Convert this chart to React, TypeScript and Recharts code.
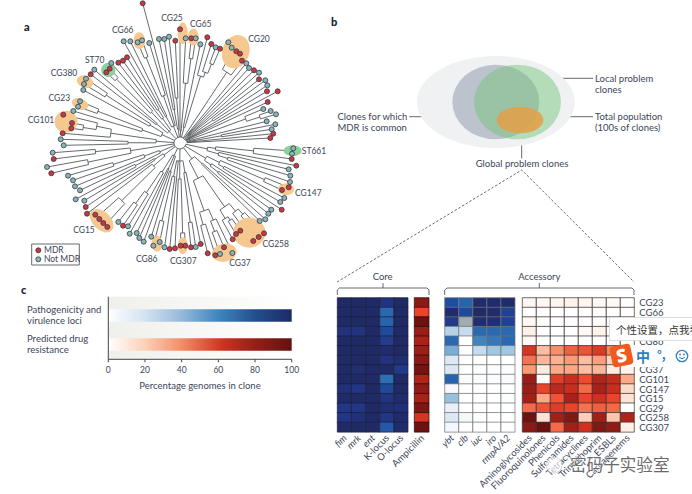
import {
  Bar,
  BarChart,
  CartesianGrid,
  Cell,
  ComposedChart,
  Line,
  Scatter,
  XAxis,
  YAxis,
} from "recharts";

const W = 692;
const H = 494;
const FONT = "Lato, 'Open Sans', sans-serif";
const INK = "#3b4658";

// panel a: tree tips clockwise from ST661, [x, y, mdr]
const tips: [number, number, number][] = [
  [293.3, 148.3, 0], [292, 153.7, 0], [291.7, 159, 1], [296.3, 165.7, 1], [288.7, 169.3, 0],
  [290.3, 175.7, 0], [290, 182, 0], [288.7, 187.3, 1], [282, 190, 1], [284.3, 198, 0],
  [280.3, 202, 0], [281.7, 209.7, 1], [271.3, 209.7, 0], [268.3, 213.7, 0], [265.3, 219.3, 0],
  [259.7, 221, 0], [264, 233.3, 1], [258.7, 237, 1], [253.3, 241, 1], [240.3, 230.7, 1],
  [236, 234, 1], [232.7, 239.3, 1], [232.3, 253, 0], [224, 247.3, 1], [220, 254, 0],
  [215.3, 255.3, 1], [207.7, 253.3, 1], [200.7, 244, 1], [195.7, 247, 0], [191, 247.3, 1],
  [185.3, 245.7, 1], [180.7, 245.7, 1], [175, 248.3, 1], [169.7, 249, 1], [164.5, 247.3, 0],
  [159.7, 242, 0], [153.3, 245.7, 0], [151.3, 236.7, 0], [143.7, 241.7, 0], [139.3, 238, 0],
  [136.7, 233, 0], [129.7, 233.7, 0], [128, 226.3, 0], [123, 225.7, 1], [118.3, 222, 0],
  [107.3, 227, 1], [103.3, 223, 1], [99.3, 219, 1], [95.3, 214.7, 1], [87, 213.7, 1],
  [85.7, 207, 1], [84.3, 200.7, 0], [75.7, 199.3, 0], [80, 190.3, 0], [75, 186.3, 0],
  [73, 180.3, 0], [68, 175.7, 0], [51.3, 173.3, 1], [47, 167, 0], [53.7, 159, 1],
  [52.7, 152.7, 0], [63.7, 145.3, 0], [60.7, 139.3, 0], [62.7, 133.3, 1], [71.3, 128.3, 1],
  [72, 123, 1], [63.3, 114.7, 1], [73.3, 111, 0], [78, 106.7, 0], [80, 101.3, 0],
  [83.3, 90, 0], [84, 84, 0], [86, 78.7, 0], [90.7, 74.3, 1], [94.3, 69.7, 0],
  [106.3, 72.3, 1], [109.7, 68.7, 1], [111.3, 63, 0], [118.3, 62.7, 1], [123, 60.7, 1],
  [127, 57.3, 1], [123.7, 41.3, 0], [130.3, 41.3, 0], [137.7, 42.3, 0], [142, 40.3, 0],
  [142.7, 3.3, 1], [149.3, 43, 0], [159, 39, 0], [164.3, 39, 0], [169, 36.7, 0],
  [175.3, 40.7, 1], [180, 29.3, 1], [185.7, 38.3, 0], [191.3, 38.3, 1], [195.7, 38.3, 0],
  [200.3, 44.3, 0], [207.3, 37.3, 1], [211.3, 44, 1], [215.7, 47.3, 0], [220, 48.7, 1],
  [228.3, 42.3, 0], [231.7, 47.7, 0], [236.3, 51.3, 1], [240, 53.7, 1], [242, 60.7, 1],
  [246.3, 63.3, 0], [249, 68, 0], [254, 70.3, 1], [259, 72.7, 0], [259, 79.3, 1],
  [265.3, 80.3, 0], [267.3, 85.3, 0], [267, 91.3, 1], [277.7, 91.3, 1], [267.7, 102, 1],
  [263.3, 109, 0], [270.7, 111, 0], [276, 114.3, 0], [266.7, 121.3, 0], [275.3, 124.3, 0],
  [271.7, 129.3, 0], [273.3, 133.7, 1], [270.3, 138, 1],
];

// clades: [bracket radius, ...children], a plain number is an index into tips
const cladeTree: any = [6,
  [28, [36, [74, [106, 0, 1], 2], 3], [40, 4, [50, 5, 6]]],
  [30, [44, [92, 7, 8], [50, 9, 10]], [38, 11, [48, 12, 13]]],
  [20, [30, 14, 15], [40, [78, [88, [95, 16, 17], 18], [88, [92, 19, 20], 21]], [72, [84, 22, [95, 23, 24]], [85, 25, 26]]]],
  [18, [30, 27, [80, 28, 29]], [36, [90, 30, 31], 32], 33, [34, 34, [80, 35, 36]]],
  [14, [30, 37, 38], [28, 39, 40], [34, 41, [60, 42, [75, 43, 44]]]],
  [20, [35, [82, [105, 45, 46], [105, 47, 48]], 49], [30, 50, 51]],
  [22, [50, 52, 53], [38, 54, [70, 55, 56]]],
  [26, [50, [94, 57, 58], [85, 59, 60]]],
  [24, [52, 61, 62], [70, 63, [85, [98, 64, 65], 66]]],
  [20, [40, 67, [88, 68, 69]], [35, 70, [88, 71, 72]]],
  [16, [30, 73, 74], [42, [90, 75, 76], 77], [30, 78, [40, 79, 80]]],
  [18, [30, 81, 82], [50, [92, 83, 84], 86], 85],
  [14, [34, 87, 88], [45, 89, 90]],
  [12, 91, [60, 92, [85, 93, 94]]],
  [16, 95, [70, 96, [75, 97, [85, 98, 99]]]],
  [24, [85, [95, [100, 100, 101], [100, 102, 103]], 104]],
  [7, [11, 105, 106], [11, 107, 108], [10, 109, [40, 110, 111]], [9, 112, 113], 114, [70, 115, [84, 116, 117]], [9, 118, [42, 119, 120]], 121, 122],
];
const treeCentre = { x: 180, y: 143 };

const blobs = [
  { x: 139.3, y: 40.7, rx: 5.8, ry: 8.5, a: 0, fill: "#f6c78f" },
  { x: 108.3, y: 70, rx: 7.2, ry: 7.2, a: 0, fill: "#8dd09b" },
  { x: 85, y: 81.7, rx: 8.5, ry: 6, a: 20, fill: "#f6c78f" },
  { x: 80, y: 104, rx: 8.5, ry: 5.5, a: 20, fill: "#f6c78f" },
  { x: 66, y: 121.7, rx: 11.5, ry: 11, a: 0, fill: "#f6c78f" },
  { x: 101.7, y: 220.7, rx: 14, ry: 9, a: 45, fill: "#f6c78f" },
  { x: 157, y: 243.7, rx: 5.5, ry: 8, a: 0, fill: "#f6c78f" },
  { x: 182.7, y: 245.7, rx: 5, ry: 8.5, a: 0, fill: "#f6c78f" },
  { x: 224.3, y: 252.7, rx: 12.5, ry: 9, a: -10, fill: "#f6c78f" },
  { x: 249.3, y: 232.7, rx: 16, ry: 15, a: 0, fill: "#f6c78f" },
  { x: 286, y: 189.3, rx: 8, ry: 6, a: 0, fill: "#f6c78f" },
  { x: 292.7, y: 150.7, rx: 9, ry: 5.5, a: 0, fill: "#8dd09b" },
  { x: 235.7, y: 51.7, rx: 13.5, ry: 17, a: 20, fill: "#f6c78f" },
  { x: 182.7, y: 33.3, rx: 5, ry: 11, a: 0, fill: "#f6c78f" },
  { x: 193.3, y: 37.3, rx: 5.5, ry: 8.5, a: 0, fill: "#f6c78f" },
];

// panel b: venn
const venn = [
  { x: 495.8, y: 102, rx: 79, ry: 46, a: 0, fill: "#f0f1f3", op: 1 },
  { x: 495.8, y: 102, rx: 43.5, ry: 37.3, a: 0, fill: "#bcc3cd", op: 1 },
  { x: 517.5, y: 102, rx: 43.5, ry: 37.3, a: 0, fill: "#73c476", op: 0.47 },
  { x: 520, y: 120, rx: 23.3, ry: 13.3, a: 0, fill: "#e0a24e", op: 0.92 },
];

const annotationPaths = [
  [[409.3, 116.7], [463.3, 116.7]],
  [[541.7, 78.3], [593, 78.3]],
  [[565.7, 116.7], [593, 116.7]],
  [[521.7, 125], [521.7, 158.3]],
  // legend box
  [[31.7, 244], [79.3, 244], [79.3, 265], [31.7, 265], [31.7, 244]],
  // core bracket
  [[337.3, 295], [337.3, 290], [339.5, 288], [427, 288], [429, 290], [429, 295]],
  [[383, 288], [383, 283]],
  // accessory bracket
  [[444.7, 295], [444.7, 290], [447, 288], [632, 288], [634, 290], [634, 295]],
  [[539.3, 288], [539.3, 283]],
];
const dashedPaths = [
  [[337, 282], [521.7, 170], [634, 282]],
];

const legendDots = [
  { x: 38.3, y: 250.3, mdr: 1 },
  { x: 38.3, y: 259.3, mdr: 0 },
];

const texts = [
  { x: 24, y: 31, t: "a", bold: 1 },
  { x: 331, y: 26, t: "b", bold: 1 },
  { x: 21, y: 294, t: "c", bold: 1 },
  { x: 122.7, y: 33, t: "CG66", mid: 1 },
  { x: 94.7, y: 63, t: "ST70", mid: 1 },
  { x: 64, y: 75.7, t: "CG380", mid: 1 },
  { x: 59.3, y: 101.3, t: "CG23", mid: 1 },
  { x: 41, y: 123, t: "CG101", mid: 1 },
  { x: 172, y: 21.3, t: "CG25", mid: 1 },
  { x: 200.7, y: 27, t: "CG65", mid: 1 },
  { x: 259, y: 42, t: "CG20", mid: 1 },
  { x: 314, y: 154, t: "ST661", mid: 1 },
  { x: 308.3, y: 196.3, t: "CG147", mid: 1 },
  { x: 275.7, y: 247, t: "CG258", mid: 1 },
  { x: 240, y: 266.3, t: "CG37", mid: 1 },
  { x: 183.3, y: 264.3, t: "CG307", mid: 1 },
  { x: 146.7, y: 262, t: "CG86", mid: 1 },
  { x: 84, y: 233, t: "CG15", mid: 1 },
  { x: 44, y: 253, t: "MDR" },
  { x: 44, y: 262.3, t: "Not MDR" },
  { x: 337.5, y: 119.5, t: "Clones for which", big: 1 },
  { x: 337.5, y: 130.5, t: "MDR is common", big: 1 },
  { x: 595, y: 82, t: "Local problem", big: 1 },
  { x: 595, y: 93, t: "clones", big: 1 },
  { x: 595, y: 119.5, t: "Total population", big: 1 },
  { x: 595, y: 130.5, t: "(100s of clones)", big: 1 },
  { x: 522, y: 166.5, t: "Global problem clones", mid: 1, big: 1 },
  { x: 382.6, y: 279.5, t: "Core", mid: 1, big: 1 },
  { x: 539.3, y: 279.5, t: "Accessory", mid: 1, big: 1 },
];

// panel b: heatmaps, % genomes per clone
const clones = ["CG23", "CG66", "CG65", "CG25", "CG86", "CG380", "CG20", "CG37", "CG101", "CG147", "CG15", "CG29", "CG258", "CG307"];

const coreLoci = ["fim", "mrk", "ent", "K-locus", "O-locus"];
const coreValues = [
  [100, 100, 100, 92, 100],
  [100, 100, 100, 70, 100],
  [100, 100, 100, 72, 100],
  [93, 92, 100, 82, 100],
  [100, 100, 100, 87, 100],
  [100, 100, 100, 98, 100],
  [100, 100, 100, 93, 96],
  [100, 96, 100, 100, 88],
  [100, 100, 100, 68, 100],
  [94, 90, 100, 82, 100],
  [100, 100, 100, 92, 98],
  [90, 90, 100, 96, 95],
  [90, 94, 100, 90, 98],
  [100, 100, 100, 76, 98],
];

const ampicillin = ["Ampicillin"];
const ampicillinValues = [[90], [62], [97], [85], [80], [84], [90], [95], [78], [88], [80], [93], [68], [97]];

const virulenceLoci = ["ybt", "clb", "iuc", "iro", "rmpA/A2"];
const virulenceValues = [
  [80, 72, 98, 98, 98],
  [98, 82, 100, 98, 85],
  [88, -1, 97, 96, 85],
  [30, 25, 70, 70, 70],
  [70, 0, 60, 65, 70],
  [45, 0, 25, 35, 35],
  [18, 0, 0, 0, 0],
  [18, 0, 2, 2, 2],
  [72, 5, 4, 4, 5],
  [7, 0, 0, 0, 0],
  [38, 0, 0, 0, 3],
  [14, 0, 0, 0, 0],
  [18, 8, 0, 0, 0],
  [10, 0, 0, 0, 0],
];

const drugClasses = ["Aminoglycosides", "Fluoroquinolones", "Phenicols", "Sulfonamides", "Tetracyclines", "Trimethoprim", "ESBLs", "Carbapenems"];
const drugValues = [
  [6, 5, 6, 8, 6, 5, 5, 0],
  [0, 0, 0, 0, 0, 0, 0, 0],
  [5, 0, 0, 0, 0, 0, 0, 0],
  [10, 0, 0, 0, 4, 8, 0, 0],
  [5, 0, 0, 0, 0, 0, 0, 0],
  [68, 28, 43, 55, 58, 66, 45, 0],
  [50, 30, 32, 40, 28, 38, 20, 0],
  [40, 12, 35, 36, 28, 30, 12, 8],
  [85, 3, 65, 72, 60, 78, 73, 35],
  [85, 62, 75, 72, 52, 80, 72, 18],
  [82, 35, 58, 80, 62, 70, 62, 15],
  [52, 58, 65, 62, 50, 55, 52, 0],
  [97, 15, 82, 92, 22, 82, 25, 78],
  [90, 98, 52, 82, 70, 92, 88, 10],
];

const italicLoci = ["fim", "mrk", "ent", "ybt", "clb", "iuc", "iro", "rmpA/A2"];

const blueRamp = ["#ffffff", "#f4f7fb", "#d6e4f1", "#b6d2e8", "#8fbbdc", "#629fd0", "#3f85c0", "#2a69b0", "#1e4ea0", "#233585", "#1f2a66"];
const redRamp = ["#ffffff", "#fff0e8", "#fdd5c0", "#fcb79a", "#fb9a75", "#f5714f", "#ee4a2e", "#d0301f", "#a82218", "#8a1a15", "#5f0f0f"];

// panel c
const traits = [
  { name: "pathogenicity", lines: ["Pathogenicity and", "virulence loci"], value: 100, fill: "url(#blueFade)" },
  { name: "resistance", lines: ["Predicted drug", "resistance"], value: 100, fill: "url(#redFade)" },
];
const percentTicks = [0, 20, 40, 60, 80, 100];

function rampColor(ramp: string[], v: number) {
  if (v < 0) return "#a2abb1";
  const pos = Math.min(v / 10, 9.999);
  const i = Math.floor(pos);
  const t = pos - i;
  const c = (s: string, k: number) => parseInt(s.slice(k, k + 2), 16);
  const mix = (k: number) => Math.round(c(ramp[i], k) * (1 - t) + c(ramp[i + 1], k) * t);
  return `rgb(${mix(1)},${mix(3)},${mix(5)})`;
}

// walk the clade list and turn it into branch segments
function tipAngle(i: number) {
  const a = Math.atan2(tips[i][1] - treeCentre.y, tips[i][0] - treeCentre.x);
  return a < 0 ? a + Math.PI * 2 : a;
}
function polar(r: number, a: number) {
  return [treeCentre.x + r * Math.cos(a), treeCentre.y + r * Math.sin(a)];
}
function buildBranches(node: any, out: number[][][]): { a: number; end: number[] } {
  if (typeof node === "number") {
    return { a: tipAngle(node), end: [tips[node][0], tips[node][1]] };
  }
  const [r, ...children] = node;
  const kids = children.map((c: any) => buildBranches(c, out));
  const rim: number[][] = [];
  kids.forEach((k: any) => {
    const p = polar(r, k.a);
    out.push([p, k.end]);
    rim.push(p);
  });
  out.push(rim);
  const a = (kids[0].a + kids[kids.length - 1].a) / 2;
  return { a, end: polar(r, a) };
}

function toRows(paths: number[][][]) {
  const rows: { x: number; y: number | null }[] = [];
  paths.forEach((path) => {
    path.forEach(([x, y]) => rows.push({ x, y }));
    const last = path[path.length - 1];
    rows.push({ x: last[0], y: null });
  });
  return rows;
}

const branches: number[][][] = [];
buildBranches(cladeTree, branches);
const branchRows = toRows(branches);
const annotationRows = toRows(annotationPaths);
const dashedRows = toRows(dashedPaths);
const tipRows = tips.map(([x, y, mdr]) => ({ x, y, mdr }));

const EllipseShape = ({ cx, cy, payload }: any) => (
  <ellipse
    cx={cx}
    cy={cy}
    rx={payload.rx}
    ry={payload.ry}
    fill={payload.fill}
    fillOpacity={payload.op ?? 1}
    transform={`rotate(${payload.a} ${cx} ${cy})`}
  />
);

const TipShape = ({ cx, cy, payload }: any) => (
  <circle cx={cx} cy={cy} r={2.5} fill={payload.mdr ? "#d0353f" : "#8db3b6"} stroke="#2f3a40" strokeWidth={0.8} />
);

const TextShape = ({ cx, cy, payload }: any) => (
  <text
    x={cx}
    y={cy}
    textAnchor={payload.mid ? "middle" : "start"}
    fontFamily={FONT}
    fontSize={payload.bold ? 11 : payload.big ? 9.5 : 8.5}
    fontWeight={payload.bold ? 900 : 400}
    fill={payload.bold ? "#14202f" : INK}
  >
    {payload.t}
  </text>
);

function Canvas() {
  return (
    <ComposedChart width={W} height={H} margin={{ top: 0, right: 0, bottom: 0, left: 0 }}>
      <XAxis type="number" dataKey="x" domain={[0, W]} hide />
      <YAxis type="number" dataKey="y" domain={[0, H]} reversed hide />
      <Scatter data={venn} shape={EllipseShape} isAnimationActive={false} />
      <Scatter data={blobs} shape={EllipseShape} isAnimationActive={false} />
      <Line data={branchRows} dataKey="y" stroke="#4a4f54" strokeWidth={0.85} dot={false} activeDot={false} isAnimationActive={false} />
      <Line data={annotationRows} dataKey="y" stroke="#55595e" strokeWidth={0.9} dot={false} activeDot={false} isAnimationActive={false} />
      <Line data={dashedRows} dataKey="y" stroke="#444" strokeWidth={0.8} strokeDasharray="2.5 1.8" dot={false} activeDot={false} isAnimationActive={false} />
      <Scatter data={tipRows} shape={TipShape} isAnimationActive={false} />
      <Scatter data={legendDots} shape={TipShape} isAnimationActive={false} />
      <Scatter data={texts} shape={TextShape} isAnimationActive={false} />
    </ComposedChart>
  );
}

function Heatmap({ columns, values, ramp, x0, x1, stroke, rowLabels }: any) {
  const top = 297.7;
  const bottom = 431.7;
  const axisH = 30;
  const axisW = rowLabels ? 40 : 0;
  const rows = clones.map((clone) => {
    const row: any = { clone };
    columns.forEach((c: string) => (row[c] = 1));
    return row;
  });
  const ColumnTick = ({ x, y, payload }: any) => {
    const name = columns[payload.value - 0.5];
    return (
      <text
        x={x + 3}
        y={y - 1}
        textAnchor="end"
        fontFamily={FONT}
        fontSize={9.5}
        fontStyle={italicLoci.includes(name) ? "italic" : "normal"}
        fill={INK}
        transform={`rotate(-45 ${x + 3} ${y - 1})`}
      >
        {name}
      </text>
    );
  };
  const RowTick = ({ x, y, payload }: any) => (
    <text x={x - 3} y={y + 4} fontFamily={FONT} fontSize={9.5} fill={INK}>
      {payload.value}
    </text>
  );
  return (
    <BarChart
      width={W}
      height={H}
      layout="vertical"
      data={rows}
      barCategoryGap={0}
      margin={{ top, left: x0, right: W - x1 - axisW, bottom: H - bottom - axisH }}
      style={{ position: "absolute", left: 0, top: 0 }}
    >
      <XAxis
        type="number"
        domain={[0, columns.length]}
        ticks={columns.map((_: string, i: number) => i + 0.5)}
        interval={0}
        height={axisH}
        axisLine={false}
        tickLine={false}
        tick={ColumnTick}
      />
      <YAxis
        type="category"
        dataKey="clone"
        orientation="right"
        hide={!rowLabels}
        width={axisW}
        interval={0}
        axisLine={false}
        tickLine={false}
        tick={RowTick}
      />
      {columns.map((c: string, j: number) => (
        <Bar key={c} dataKey={c} stackId="cells" isAnimationActive={false}>
          {clones.map((clone, i) => (
            <Cell key={clone} fill={rampColor(ramp, values[i][j])} stroke={stroke} strokeWidth={0.7} />
          ))}
        </Bar>
      ))}
    </BarChart>
  );
}

const TraitTick = ({ y, payload }: any) => {
  const trait = traits.find((t) => t.name === payload.value);
  return (
    <text fontFamily={FONT} fontSize={9.5} fill={INK}>
      {trait?.lines.map((line, i) => (
        <tspan key={line} x={27} y={y - 3 + i * 11}>
          {line}
        </tspan>
      ))}
    </text>
  );
};

function TraitBars() {
  return (
    <BarChart
      width={W}
      height={H}
      layout="vertical"
      data={traits}
      margin={{ top: 296.7, left: 0, right: W - 291.7, bottom: H - 359.3 - 34 }}
      style={{ position: "absolute", left: 0, top: 0 }}
    >
      <defs>
        <linearGradient id="panelFade" x1="0" x2="1" y1="0" y2="0">
          <stop offset="0" stopColor="#efefeb" />
          <stop offset="1" stopColor="#ffffff" />
        </linearGradient>
        <linearGradient id="blueFade" x1="0" x2="1" y1="0" y2="0">
          <stop offset="0" stopColor="#ffffff" />
          <stop offset="0.2" stopColor="#d3e2f1" />
          <stop offset="0.4" stopColor="#95b9db" />
          <stop offset="0.6" stopColor="#3f86bf" />
          <stop offset="0.8" stopColor="#234f8d" />
          <stop offset="1" stopColor="#1b2b68" />
        </linearGradient>
        <linearGradient id="redFade" x1="0" x2="1" y1="0" y2="0">
          <stop offset="0" stopColor="#ffffff" />
          <stop offset="0.2" stopColor="#fdd0b8" />
          <stop offset="0.4" stopColor="#f28d68" />
          <stop offset="0.62" stopColor="#cf3420" />
          <stop offset="0.8" stopColor="#932018" />
          <stop offset="1" stopColor="#65110f" />
        </linearGradient>
      </defs>
      <CartesianGrid horizontal={false} vertical={false} fill="url(#panelFade)" />
      <XAxis
        type="number"
        domain={[0, 100]}
        ticks={percentTicks}
        height={34}
        stroke="#444"
        tickSize={3}
        tickMargin={5}
        tick={{ fontFamily: FONT, fontSize: 8.5, fill: INK }}
        label={{ value: "Percentage genomes in clone", position: "insideBottom", offset: 4, fontFamily: FONT, fontSize: 9.5, fill: INK }}
      />
      <YAxis
        type="category"
        dataKey="name"
        width={108.3}
        interval={0}
        padding={{ top: 4.5, bottom: 0 }}
        stroke="#444"
        tickLine={false}
        tick={TraitTick}
      />
      <Bar dataKey="value" barSize={12.5} isAnimationActive={false}>
        {traits.map((t) => (
          <Cell key={t.name} fill={t.fill} />
        ))}
      </Bar>
    </BarChart>
  );
}

// input-method popup and watermark that sit over the screenshot
function ScreenOverlay() {
  const abs = (s: any) => ({ position: "absolute", ...s });
  return (
    <>
      <div style={abs({ left: 609, top: 316.5, width: 83, height: 24.5, background: "#fff", border: "1px solid #ddd", borderRight: 0, boxSizing: "border-box", overflow: "hidden", whiteSpace: "nowrap", fontFamily: "'Noto Sans CJK SC'", fontSize: 10.5, lineHeight: "23px", paddingLeft: 6, color: "#333" })}>
        个性设置，点我看看
      </div>
      <div style={abs({ left: 626, top: 344.5, width: 66, height: 22, background: "#fff" })} />
      <div style={abs({ left: 611, top: 345, width: 21, height: 21, borderRadius: 4, background: "#f1591f", transform: "rotate(-12deg)", color: "#fff", fontFamily: "'Open Sans'", fontWeight: 800, fontSize: 18, lineHeight: "20px", textAlign: "center" })}>
        S
      </div>
      <div style={abs({ left: 636, top: 347, fontFamily: "'Noto Sans CJK SC'", fontWeight: 700, fontSize: 14, lineHeight: "18px", color: "#2e7fc1" })}>中</div>
      <div style={abs({ left: 657, top: 345, fontFamily: "'Noto Sans CJK SC'", fontWeight: 700, fontSize: 12, lineHeight: "18px", color: "#2e7fc1" })}>°,</div>
      <svg style={abs({ left: 675, top: 349 })} width={14} height={14}>
        <circle cx={7} cy={7} r={5.7} fill="none" stroke="#2e7fc1" strokeWidth={1.3} />
        <circle cx={5} cy={5.5} r={0.9} fill="#2e7fc1" />
        <circle cx={9} cy={5.5} r={0.9} fill="#2e7fc1" />
        <path d="M4.2 8.4 Q7 11 9.8 8.4" fill="none" stroke="#2e7fc1" strokeWidth={1} />
      </svg>
      <div style={abs({ left: 570, top: 452, fontFamily: "'Noto Sans CJK SC'", fontSize: 16.6, lineHeight: "24px", color: "#6a6a6a", whiteSpace: "nowrap", textShadow: "0 0 2px #fff, 0 0 2px #fff" })}>
        密码子实验室
      </div>
      <svg style={abs({ left: 543, top: 455 })} width={22} height={20}>
        <circle cx={11} cy={10} r={8} fill="#ffffff" fillOpacity={0.65} stroke="#cfcfcf" strokeWidth={0.8} />
      </svg>
    </>
  );
}

export default function App() {
  return (
    <div style={{ position: "absolute", left: 0, top: 0, width: W, height: H, overflow: "hidden", background: "#fff" }}>
      <div style={{ position: "absolute", left: 0, top: 0 }}>
        <Canvas />
      </div>
      <TraitBars />
      <Heatmap columns={coreLoci} values={coreValues} ramp={blueRamp} x0={337.3} x1={408} stroke="#1a1f3c" />
      <Heatmap columns={ampicillin} values={ampicillinValues} ramp={redRamp} x0={414.3} x1={429} stroke="#2a0a0a" />
      <Heatmap columns={virulenceLoci} values={virulenceValues} ramp={blueRamp} x0={444.7} x1={515} stroke="#6f7376" />
      <Heatmap columns={drugClasses} values={drugValues} ramp={redRamp} x0={522.3} x1={634.3} stroke="#3a3030" rowLabels />
      <ScreenOverlay />
    </div>
  );
}
